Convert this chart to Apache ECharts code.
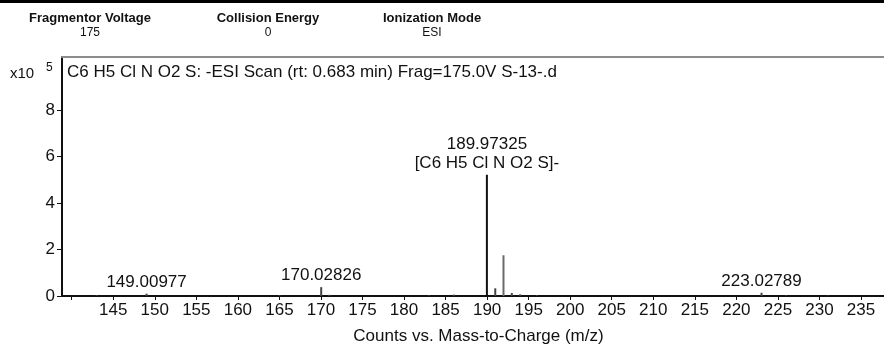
<!DOCTYPE html>
<html>
<head>
<meta charset="utf-8">
<script src="https://cdn.jsdelivr.net/npm/echarts@6/dist/echarts.min.js"></script>
<style>
html,body{margin:0;padding:0;background:#fff;}
#chart{width:884px;height:350px;}
</style>
</head>
<body>
<div id="chart"></div>
<script>
// m/z positions of sticks
const mzValues = [143.0, 149.00977, 165.0, 170.02826, 171.03, 183.0, 186.0, 189.97325, 190.98, 191.97, 192.97, 193.97, 196.0, 223.02789, 226.0, 231.0];
// intensities (x10^5 counts)
const intensities = [0.03, 0.10, 0.04, 0.38, 0.05, 0.03, 0.06, 5.21, 0.33, 1.75, 0.13, 0.07, 0.03, 0.14, 0.03, 0.02];
// peak annotations
const peakLabels = ['', '149.00977', '', '170.02826', '', '', '', '189.97325\n[C6 H5 Cl N O2 S]-', '', '', '', '', '', '223.02789', '', ''];
// tick labels
const xLabelTicks = [145, 150, 155, 160, 165, 170, 175, 180, 185, 190, 195, 200, 205, 210, 215, 220, 225, 230, 235];
const xTickMarks = [140, 145, 150, 155, 160, 165, 170, 175, 180, 185, 190, 195, 200, 205, 210, 215, 220, 225, 230, 235];
const yTicks = [0, 2, 4, 6, 8];

const headerTitles = ['Fragmentor Voltage', 'Collision Energy', 'Ionization Mode'];
const headerValues = ['175', '0', 'ESI'];
const plotTitle = 'C6 H5 Cl N O2 S: -ESI Scan (rt: 0.683 min) Frag=175.0V S-13-.d';

const FONT = "'Liberation Sans', Arial, sans-serif";
const xMin = 138.83, xMax = 237.77, yMax = 10.27;

const chart = echarts.init(document.getElementById('chart'), null, {renderer: 'canvas'});

const barData = mzValues.map((mz, i) => {
  const item = {
    value: [mz, intensities[i]],
    itemStyle: {color: intensities[i] > 4 ? '#111' : (intensities[i] > 1 ? '#6a6a6a' : '#444')}
  };
  if (peakLabels[i]) {
    item.label = {show: true, position: 'top', distance: 2, formatter: peakLabels[i]};
  }
  return item;
});

const headerX = [90, 268, 432];
const graphics = [
  {type: 'rect', left: 0, top: 0, shape: {width: 884, height: 3}, style: {fill: '#000'}}
];
headerTitles.forEach((t, i) => {
  graphics.push({type: 'text', x: headerX[i], y: 18, style: {text: t, font: 'bold 13px ' + FONT, fill: '#111', textAlign: 'center', textVerticalAlign: 'middle'}});
  graphics.push({type: 'text', x: headerX[i], y: 33, style: {text: headerValues[i], font: '12px ' + FONT, fill: '#111', textAlign: 'center', textVerticalAlign: 'middle'}});
});
graphics.push({type: 'text', x: 67, y: 72, style: {text: plotTitle, font: '17px ' + FONT, fill: '#111', textAlign: 'left', textVerticalAlign: 'middle'}});
graphics.push({type: 'text', x: 10, y: 74, style: {text: 'x10', font: '15px ' + FONT, fill: '#111', textAlign: 'left', textVerticalAlign: 'middle'}});
graphics.push({type: 'text', x: 46, y: 68, style: {text: '5', font: '12px ' + FONT, fill: '#111', textAlign: 'left', textVerticalAlign: 'middle'}});

const option = {
  animation: false,
  backgroundColor: '#fff',
  grid: {left: 62, right: 0, top: 57, bottom: 49, containLabel: false},
  xAxis: [{
    type: 'value', min: xMin, max: xMax, position: 'bottom',
    name: 'Counts vs. Mass-to-Charge (m/z)', nameLocation: 'middle', nameGap: 32,
    nameTextStyle: {fontFamily: FONT, fontSize: 17, color: '#111', padding: [0, 0, 0, 11]},
    axisLine: {show: true, onZero: false, lineStyle: {color: '#111', width: 2}},
    axisTick: {show: true, length: 4, customValues: xTickMarks, lineStyle: {color: '#111', width: 1}},
    axisLabel: {show: true, customValues: xLabelTicks, margin: 6, fontFamily: FONT, fontSize: 17, color: '#111'},
    splitLine: {show: false}
  }, {
    type: 'value', min: xMin, max: xMax, position: 'top',
    axisLine: {show: true, onZero: false, lineStyle: {color: '#8c8c8c', width: 2}},
    axisTick: {show: false}, axisLabel: {show: false}, splitLine: {show: false}
  }],
  yAxis: {
    type: 'value', min: 0, max: yMax,
    axisLine: {show: true, lineStyle: {color: '#111', width: 2}},
    axisTick: {show: true, length: 5, customValues: yTicks, lineStyle: {color: '#111', width: 1}},
    axisLabel: {show: true, customValues: yTicks, margin: 7, fontFamily: FONT, fontSize: 17, color: '#111'},
    splitLine: {show: false}
  },
  series: [{
    type: 'bar', xAxisIndex: 0, yAxisIndex: 0,
    barWidth: 2,
    data: barData,
    label: {fontFamily: FONT, fontSize: 17, color: '#111', lineHeight: 19},
    silent: true
  }],
  graphic: graphics
};
chart.setOption(option);
</script>
</body>
</html>
